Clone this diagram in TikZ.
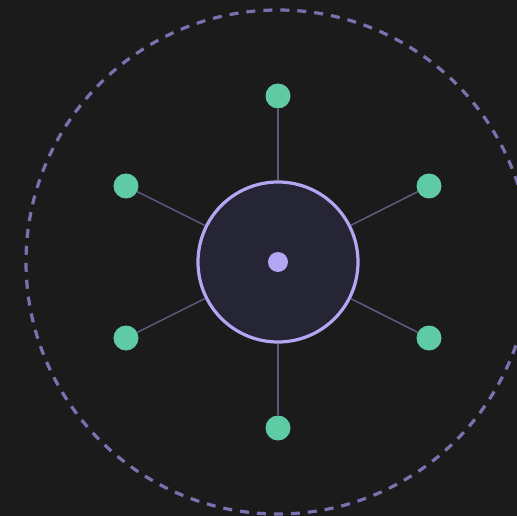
\documentclass[tikz,border=0pt]{standalone}
\usetikzlibrary{positioning}

\definecolor{bgdark}{HTML}{1B1B1B}
\definecolor{hubfill}{HTML}{252535}
\definecolor{lavender}{HTML}{B4A6F2}
\definecolor{ringcol}{HTML}{7A72B0}
\definecolor{spokecol}{HTML}{5F5A80}
\definecolor{mint}{HTML}{5ECBA4}

\tikzset{
  hub/.style={circle, draw=lavender, line width=3.2pt, fill=hubfill, minimum size=160pt, inner sep=0pt},
  core/.style={circle, fill=lavender, minimum size=20pt, inner sep=0pt},
  leaf/.style={circle, fill=mint, minimum size=25pt, inner sep=0pt},
  spoke/.style={draw=spokecol, line width=1.5pt}
}

\begin{document}
\begin{tikzpicture}[x=1pt, y=-1pt]

  % 1. Nen toi
  \fill[bgdark] (0,0) rectangle (517,516);
  \useasboundingbox (0,0) rectangle (517,516);

  % 2. Vong net dut ben ngoai
  \draw[ringcol, line width=3.2pt, dash pattern=on 9pt off 8pt] (278,262) circle (252);

  % 3. Tam
  \node[hub] (hub) at (278,262) {};
  \node[core] (core) at (hub.center) {};

  % 4. Cac nut xung quanh
  \node[leaf] (top) at (278,96) {};
  \node[leaf] (topleft) at (126,186) {};
  \node[leaf] (topright) at (429,186) {};
  \node[leaf] (botleft) at (126,338) {};
  \node[leaf] (botright) at (429,338) {};
  \node[leaf] (bot) at (278,428) {};

  % 5. Noi cac nut voi tam
  \foreach \n in {top,topleft,topright,botleft,botright,bot}
    \draw[spoke] (\n) -- (hub);

\end{tikzpicture}
\end{document}
